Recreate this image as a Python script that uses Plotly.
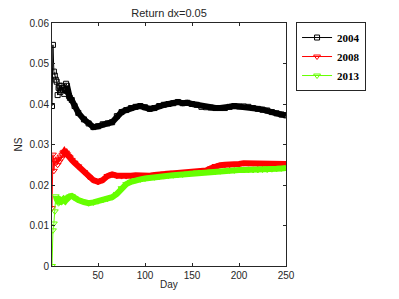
import plotly.graph_objects as go

# ---- data ----
days = list(range(1, 21)) + [22, 25, 29] + list(range(35, 251, 5))

ns_2004 = [0.0395, 0.0546, 0.0480, 0.0470, 0.0460, 0.0455, 0.0422, 0.0440, 0.0445, 0.0430,
           0.0445, 0.0435, 0.0440, 0.0425, 0.0435, 0.0450, 0.0445, 0.0430, 0.0420, 0.0415,
           0.0410, 0.0395, 0.0378,
           0.0362, 0.0352, 0.0343, 0.0345, 0.0350, 0.0352, 0.0355, 0.0370, 0.0380, 0.0385,
           0.0390, 0.0393, 0.0395, 0.0392, 0.0388, 0.0390, 0.0395, 0.0398, 0.0400, 0.0402,
           0.0405, 0.0402, 0.0403, 0.0400, 0.0398, 0.0393, 0.0392, 0.0391, 0.0390, 0.0390,
           0.0390, 0.0393, 0.0395, 0.0394, 0.0394, 0.0393, 0.0390, 0.0388, 0.0386, 0.0384,
           0.0380, 0.0377, 0.0374, 0.0372]

ns_2008 = [0.0143, 0.0275, 0.0235, 0.0260, 0.0255, 0.0262, 0.0250, 0.0265, 0.0258, 0.0270,
           0.0265, 0.0275, 0.0280, 0.0282, 0.0278, 0.0280, 0.0276, 0.0272, 0.0270, 0.0268,
           0.0262, 0.0255, 0.0246,
           0.0232, 0.0220, 0.0212, 0.0208, 0.0212, 0.0222, 0.0226, 0.0223, 0.0222, 0.0222,
           0.0223, 0.0224, 0.0223, 0.0222, 0.0223, 0.0225, 0.0226, 0.0228, 0.0230, 0.0230,
           0.0229, 0.0230, 0.0231, 0.0232, 0.0233, 0.0234, 0.0236, 0.0241, 0.0247, 0.0249,
           0.0250, 0.0250, 0.0251, 0.0252, 0.0254, 0.0254, 0.0254, 0.0253, 0.0253, 0.0253,
           0.0252, 0.0252, 0.0252, 0.0252]

ns_2013 = [0.0000, 0.0088, 0.0105, 0.0135, 0.0172, 0.0168, 0.0160, 0.0155, 0.0158, 0.0162,
           0.0160, 0.0163, 0.0165, 0.0162, 0.0160, 0.0163, 0.0166, 0.0168, 0.0170, 0.0172,
           0.0173, 0.0168, 0.0163,
           0.0158, 0.0155, 0.0157, 0.0160, 0.0163, 0.0166, 0.0170, 0.0178, 0.0192, 0.0202,
           0.0208, 0.0212, 0.0214, 0.0216, 0.0218, 0.0219, 0.0220, 0.0222, 0.0223, 0.0224,
           0.0225, 0.0226, 0.0228, 0.0230, 0.0231, 0.0232, 0.0232, 0.0233, 0.0233, 0.0234,
           0.0235, 0.0236, 0.0236, 0.0237, 0.0237, 0.0237, 0.0237, 0.0237, 0.0238, 0.0238,
           0.0239, 0.0240, 0.0241, 0.0242]

series = [
    ("2004", ns_2004, "#000000", "square-open", 5, 16),
    ("2008", ns_2008, "#ff0000", "triangle-down-open", 6, 11),
    ("2013", ns_2013, "#66ff00", "triangle-down-open", 6, 4),
]

x_ticks = [50, 100, 150, 200, 250]
y_ticks = [0, 0.01, 0.02, 0.03, 0.04, 0.05, 0.06]
y_ticktext = ["0", "0.01", "0.02", "0.03", "0.04", "0.05", "0.06"]

fig = go.Figure()
for name, vals, color, sym, msize, band_start in series:
    fig.add_trace(go.Scatter(
        x=days, y=vals, name=name, mode="lines+markers",
        line=dict(color=color, width=1),
        marker=dict(symbol=sym, size=msize, color=color, line=dict(color=color, width=1)),
    ))
    fig.add_trace(go.Scatter(
        x=days[band_start:], y=vals[band_start:], mode="lines", showlegend=False,
        line=dict(color=color, width=6), hoverinfo="skip",
    ))

axis_common = dict(
    showline=True, linecolor="#262626", linewidth=1, mirror="ticks",
    ticks="inside", ticklen=3, tickcolor="#262626", showgrid=False, zeroline=False,
    automargin=False,
    tickfont=dict(family="Liberation Sans, Arial", size=10, color="#262626"),
)

fig.update_layout(
    template="none",
    width=391, height=291,
    margin=dict(l=44, r=113, t=15, b=33, pad=0),
    paper_bgcolor="white", plot_bgcolor="white",
    title=dict(text="Return dx=0.05", x=0.412, xanchor="center", y=0.995, yanchor="top",
               pad=dict(t=0, b=0),
               font=dict(family="Liberation Sans, Arial", size=11, color="#262626")),
    xaxis=dict(range=[1, 250], tickvals=x_ticks, **axis_common),
    yaxis=dict(range=[0, 0.06], tickvals=y_ticks, ticktext=y_ticktext, **axis_common,
               title=dict(text="NS",
                          font=dict(family="Liberation Sans, Arial", size=10, color="#262626"))),
    annotations=[dict(text="Day", xref="paper", yref="paper", x=0.5, y=0,
                      xanchor="center", yanchor="top", yshift=-11, showarrow=False,
                      font=dict(family="Liberation Sans, Arial", size=10, color="#262626"))],
    legend=dict(x=1.043, y=1.004, xanchor="left", yanchor="top",
                bordercolor="#262626", borderwidth=1, bgcolor="white",
                font=dict(family="Liberation Serif, Times New Roman", size=11, color="black",
                          weight="bold"),
                tracegroupgap=0, itemwidth=30),
    showlegend=True,
)

fig.write_html("out.html")
